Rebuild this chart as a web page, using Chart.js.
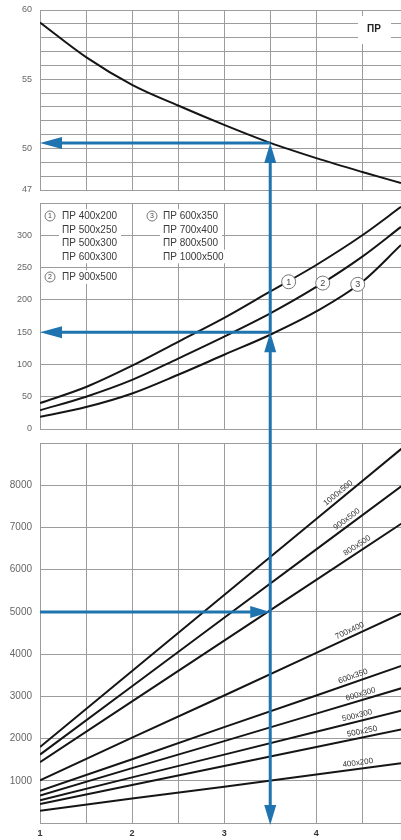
<!DOCTYPE html>
<html lang="ru">
<head>
<meta charset="utf-8">
<title>ПР</title>
<script src="https://cdn.jsdelivr.net/npm/chart.js@4.4.1/dist/chart.umd.min.js"></script>
<style>
    html, body { margin: 0; padding: 0; background: #fff; }
    body { width: 401px; height: 840px; position: relative; overflow: hidden; }
    canvas { position: absolute; left: 0; }
    #topChart  { top: 0; }
    #midChart  { top: 196px; }
    #flowChart { top: 436px; }
</style>
</head>
<body>
<canvas id="topChart" width="401" height="196"></canvas>
<canvas id="midChart" width="401" height="240"></canvas>
<canvas id="flowChart" width="401" height="404"></canvas>
<script>
'use strict';

// ── Data ──────────────────────────────────────────────────────────────────
var velocity = [1, 1.5, 2, 2.5, 3, 3.5, 4, 4.5, 4.92];
var topCurve = [59.1, 56.6, 54.6, 53.1, 51.7, 50.4, 49.3, 48.3, 47.5];
var curve1   = [40, 65, 98, 135, 172, 213, 254, 300, 344];
var curve2   = [29, 50, 76, 109, 143, 179, 220, 267, 313];
var curve3   = [19, 34, 55, 84, 115, 146, 182, 228, 285];

var flowVelocity = [1, 2, 3, 4, 5];
var flow400x200  = [290, 580, 860, 1150, 1440];
var flow500x250  = [450, 900, 1350, 1800, 2250];
var flow500x300  = [540, 1080, 1620, 2160, 2700];
var flow600x300  = [650, 1300, 1940, 2590, 3240];
var flow600x350  = [760, 1510, 2270, 3020, 3780];
var flow700x400  = [1010, 2020, 3020, 4030, 5040];
var flow800x500  = [1440, 2880, 4320, 5760, 7200];
var flow900x500  = [1620, 3240, 4860, 6480, 8100];
var flow1000x500 = [1800, 3600, 5400, 7200, 9000];
var ductSizes = ['400x200', '500x250', '500x300', '600x300', '600x350', '700x400', '800x500', '900x500', '1000x500'];

var xTicks     = [1, 1.5, 2, 2.5, 3, 3.5, 4, 4.5];
var xLabels    = [1, 2, 3, 4];
var topTicks   = [47, 48, 49, 50, 51, 52, 53, 54, 55, 56, 57, 58, 59, 60];
var topLabels  = [47, 50, 55, 60];
var midTicks   = [0, 50, 100, 150, 200, 250, 300, 350];
var midLabels  = [0, 50, 100, 150, 200, 250, 300];
var flowTicks  = [0, 1000, 2000, 3000, 4000, 5000, 6000, 7000, 8000, 9000];
var flowLabels = [1000, 2000, 3000, 4000, 5000, 6000, 7000, 8000];

var legendGroup1 = ['ПР 400x200', 'ПР 500x250', 'ПР 500x300', 'ПР 600x300'];
var legendGroup2 = ['ПР 900x500'];
var legendGroup3 = ['ПР 600x350', 'ПР 700x400', 'ПР 800x500', 'ПР 1000x500'];

// worked example (blue path)
var readVelocity = 3.5;
var readTop  = 50.4;
var readMid  = 150;
var readFlow = 5000;

// ── Style ─────────────────────────────────────────────────────────────────
var X_MAX = 4.92;
var BLUE = '#1f74b0';
var GRID = '#9c9c9c';
var LINE = '#151515';
var FONT = "'Liberation Sans', Arial, sans-serif";

// where the size labels sit along their lines (m/s)
var flowLabelAt = [4.46, 4.51, 4.46, 4.50, 4.42, 4.39, 4.48, 4.37, 4.28];
// circled curve markers (value coordinates)
var markerAt = [[3.7, 228], [4.07, 226], [4.45, 224]];

Chart.defaults.font.family = FONT;

// ── Helpers ───────────────────────────────────────────────────────────────
function points(xs, ys) {
    return xs.map(function (x, i) { return { x: x, y: ys[i] }; });
}

function scales(o) {
    return {
        x: {
            type: 'linear', min: 1, max: X_MAX,
            afterBuildTicks: function (s) { s.ticks = xTicks.map(function (v) { return { value: v }; }); },
            afterFit: function (s) {
                s.height = o.xHeight;
                s.paddingLeft = 0; s.paddingRight = 0;
            },
            grid: { color: GRID, lineWidth: 1, drawTicks: false },
            border: { color: GRID, width: 1 },
            ticks: {
                display: !!o.xShow, autoSkip: false, maxRotation: 0, padding: 5,
                color: '#333', font: { size: 9, weight: 'bold' },
                callback: function (v) { return xLabels.indexOf(v) >= 0 ? String(v) : ''; }
            }
        },
        y: {
            type: 'linear', min: o.yMin, max: o.yMax,
            afterBuildTicks: function (s) { s.ticks = o.yTicks.map(function (v) { return { value: v }; }); },
            afterFit: function (s) {
                s.width = 40;
                // labels may hang over the plot edges; keep the plot box fixed
                s.paddingTop = 0; s.paddingBottom = 0;
            },
            grid: { color: GRID, lineWidth: 1, drawTicks: false },
            border: { color: GRID, width: 1 },
            ticks: {
                autoSkip: false, padding: 8, color: '#666', font: { size: o.fontSize || 9 },
                callback: function (v) { return o.yLabels.indexOf(v) >= 0 ? String(v) : ''; }
            }
        }
    };
}

function options(o, padTop) {
    return {
        responsive: false,
        animation: false,
        devicePixelRatio: 1,
        events: [],
        layout: { padding: { top: padTop, right: 0, bottom: 0, left: 0 } },
        plugins: { legend: { display: false }, tooltip: { enabled: false } },
        scales: scales(o)
    };
}

function curveSet(data) {
    return {
        data: data, borderColor: LINE, borderWidth: 2, pointRadius: 0,
        cubicInterpolationMode: 'monotone', fill: false
    };
}

function arrowHead(ctx, x, y, dir, len, half) {
    ctx.beginPath();
    ctx.moveTo(x, y);
    if (dir === 'up')    { ctx.lineTo(x - half, y + len); ctx.lineTo(x + half, y + len); }
    if (dir === 'down')  { ctx.lineTo(x - half, y - len); ctx.lineTo(x + half, y - len); }
    if (dir === 'left')  { ctx.lineTo(x + len, y - half); ctx.lineTo(x + len, y + half); }
    if (dir === 'right') { ctx.lineTo(x - len, y - half); ctx.lineTo(x - len, y + half); }
    ctx.closePath();
    ctx.fill();
}

function blue(ctx) {
    ctx.strokeStyle = BLUE;
    ctx.fillStyle = BLUE;
    ctx.lineWidth = 3;
    ctx.lineCap = 'butt';
}

function circled(ctx, x, y, r, n, size) {
    ctx.beginPath();
    ctx.arc(x, y, r, 0, Math.PI * 2);
    ctx.fillStyle = '#fff';
    ctx.fill();
    ctx.lineWidth = 1;
    ctx.strokeStyle = '#777';
    ctx.stroke();
    ctx.fillStyle = '#444';
    ctx.font = size + 'px ' + FONT;
    ctx.textAlign = 'center';
    ctx.textBaseline = 'middle';
    ctx.fillText(n, x, y + 0.5);
}

// ── Top panel ─────────────────────────────────────────────────────────────
new Chart(document.getElementById('topChart'), {
    type: 'line',
    data: { datasets: [curveSet(points(velocity, topCurve))] },
    options: options({ xHeight: 6, yMin: 47, yMax: 60, yTicks: topTicks, yLabels: topLabels }, 10),
    plugins: [{
        id: 'topOverlay',
        beforeDatasetsDraw: function (chart) {
            var ctx = chart.ctx, a = chart.chartArea;
            ctx.save();
            ctx.fillStyle = '#fff';
            ctx.fillRect(a.right - 43, a.top + 6, 33, 28);
            ctx.fillStyle = '#222';
            ctx.font = 'bold 10px ' + FONT;
            ctx.textAlign = 'center';
            ctx.textBaseline = 'middle';
            ctx.fillText('ПР', a.right - 27, a.top + 19);
            ctx.restore();
        },
        afterDatasetsDraw: function (chart) {
            var ctx = chart.ctx, a = chart.chartArea;
            var bx = chart.scales.x.getPixelForValue(readVelocity);
            var by = chart.scales.y.getPixelForValue(readTop);
            ctx.save();
            blue(ctx);
            ctx.beginPath();
            ctx.moveTo(bx, chart.height);
            ctx.lineTo(bx, by + 15);
            ctx.moveTo(bx, by);
            ctx.lineTo(a.left + 15, by);
            ctx.stroke();
            arrowHead(ctx, bx, by, 'up', 20, 6);
            arrowHead(ctx, a.left, by, 'left', 22, 6);
            ctx.restore();
        }
    }]
});

// ── Middle panel ──────────────────────────────────────────────────────────
new Chart(document.getElementById('midChart'), {
    type: 'line',
    data: {
        datasets: [
            curveSet(points(velocity, curve1)),
            curveSet(points(velocity, curve2)),
            curveSet(points(velocity, curve3))
        ]
    },
    options: options({ xHeight: 7, yMin: 0, yMax: 350, yTicks: midTicks, yLabels: midLabels }, 7),
    plugins: [{
        id: 'midOverlay',
        beforeDatasetsDraw: function (chart) {
            var ctx = chart.ctx, a = chart.chartArea;
            var rowH = 13.5;
            var cols = [
                { n: '1', rows: legendGroup1, cx: a.left + 10, tx: a.left + 22, y: a.top + 13 },
                { n: '2', rows: legendGroup2, cx: a.left + 10, tx: a.left + 22, y: a.top + 74 },
                { n: '3', rows: legendGroup3, cx: a.left + 112, tx: a.left + 123, y: a.top + 13 }
            ];
            ctx.save();
            ctx.font = '10px ' + FONT;
            cols.forEach(function (c) {
                c.rows.forEach(function (t, i) {
                    var y = c.y + i * rowH;
                    var w = ctx.measureText(t).width;
                    var x0 = i === 0 ? c.cx - 7 : c.tx - 3;
                    ctx.fillStyle = '#fff';
                    ctx.fillRect(x0, y - rowH / 2, c.tx + w + 4 - x0, rowH);
                });
            });
            cols.forEach(function (c) {
                c.rows.forEach(function (t, i) {
                    var y = c.y + i * rowH;
                    ctx.font = '10px ' + FONT;
                    ctx.fillStyle = '#3a3a3a';
                    ctx.textAlign = 'left';
                    ctx.textBaseline = 'middle';
                    ctx.fillText(t, c.tx, y + 0.5);
                });
                circled(ctx, c.cx, c.y, 5, c.n, 7);
            });
            ctx.restore();
        },
        afterDatasetsDraw: function (chart) {
            var ctx = chart.ctx, a = chart.chartArea;
            var xs = chart.scales.x, ys = chart.scales.y;
            ctx.save();
            markerAt.forEach(function (m, i) {
                circled(ctx, xs.getPixelForValue(m[0]), ys.getPixelForValue(m[1]), 7, String(i + 1), 9);
            });
            var bx = xs.getPixelForValue(readVelocity);
            var by = ys.getPixelForValue(readMid);
            blue(ctx);
            ctx.beginPath();
            ctx.moveTo(bx, 0);
            ctx.lineTo(bx, by);
            ctx.moveTo(bx, by + 15);
            ctx.lineTo(bx, chart.height);
            ctx.moveTo(bx, by);
            ctx.lineTo(a.left + 15, by);
            ctx.stroke();
            arrowHead(ctx, bx, by, 'up', 20, 6);
            arrowHead(ctx, a.left, by, 'left', 22, 6);
            ctx.restore();
        }
    }]
});

// ── Bottom panel (air flow) ───────────────────────────────────────────────
var flowSeries = [flow400x200, flow500x250, flow500x300, flow600x300, flow600x350,
                  flow700x400, flow800x500, flow900x500, flow1000x500];

new Chart(document.getElementById('flowChart'), {
    type: 'line',
    data: {
        datasets: flowSeries.map(function (s) {
            return { data: points(flowVelocity, s), borderColor: LINE, borderWidth: 2, pointRadius: 0, tension: 0 };
        })
    },
    options: options({ xHeight: 17, xShow: true, yMin: 0, yMax: 9000, yTicks: flowTicks, yLabels: flowLabels, fontSize: 10 }, 7),
    plugins: [{
        id: 'flowOverlay',
        afterDatasetsDraw: function (chart) {
            var ctx = chart.ctx, a = chart.chartArea;
            var xs = chart.scales.x, ys = chart.scales.y;
            ctx.save();
            ctx.font = '8px ' + FONT;
            ctx.fillStyle = '#333';
            ctx.textAlign = 'center';
            ctx.textBaseline = 'middle';
            ductSizes.forEach(function (name, i) {
                var pts = chart.getDatasetMeta(i).data;
                var px = xs.getPixelForValue(flowLabelAt[i]);
                var k = 0;
                while (k < pts.length - 2 && pts[k + 1].x < px) k++;
                var p0 = pts[k], p1 = pts[k + 1];
                var py = p0.y + (p1.y - p0.y) * (px - p0.x) / (p1.x - p0.x);
                var ang = Math.atan2(p1.y - p0.y, p1.x - p0.x);
                ctx.save();
                ctx.translate(px, py);
                ctx.rotate(ang);
                ctx.fillText(name, 0, -6);
                ctx.restore();
            });

            var bx = xs.getPixelForValue(readVelocity);
            var by = ys.getPixelForValue(readFlow);
            var tip = ys.getPixelForValue(-50);
            blue(ctx);
            ctx.beginPath();
            ctx.moveTo(bx, 0);
            ctx.lineTo(bx, tip - 15);
            ctx.moveTo(a.left, by);
            ctx.lineTo(bx - 15, by);
            ctx.stroke();
            arrowHead(ctx, bx, tip, 'down', 20, 6);
            arrowHead(ctx, bx, by, 'right', 20, 6);
            ctx.restore();
        }
    }]
});
</script>
</body>
</html>
